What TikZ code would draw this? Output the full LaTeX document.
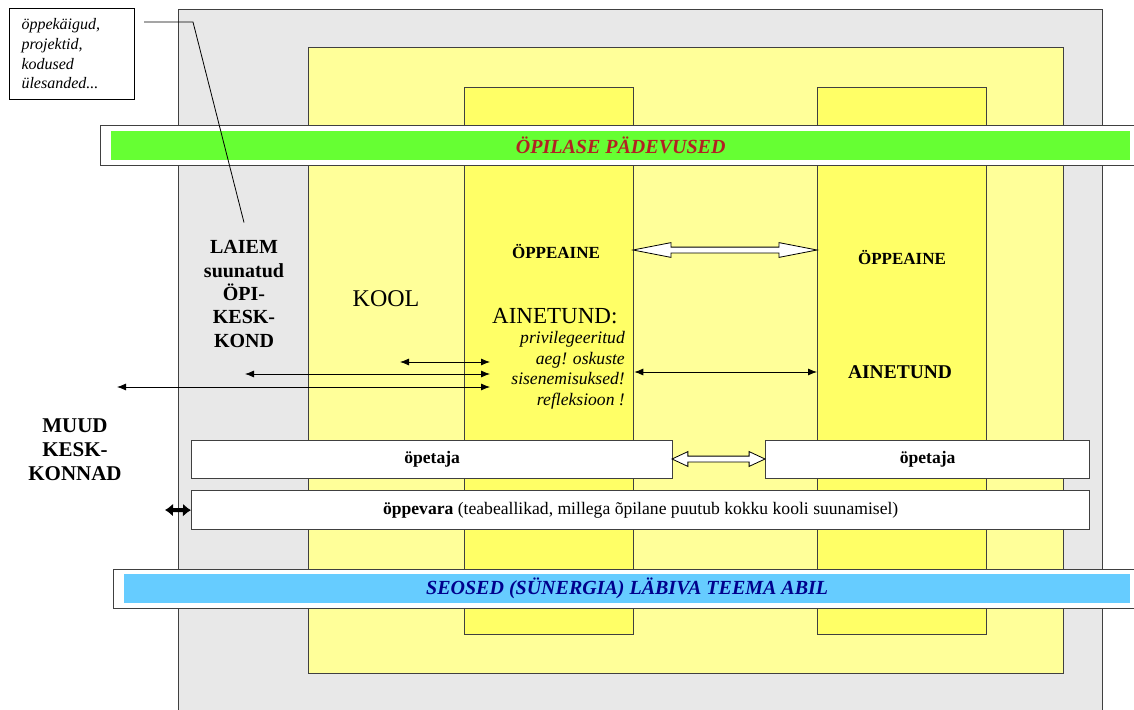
\documentclass[tikz,border=0pt]{standalone}
\usepackage{fontspec}
\setmainfont{Liberation Serif}
\usetikzlibrary{arrows.meta,shapes.arrows}

\definecolor{outerGray}{RGB}{232,232,232}
\definecolor{schoolYellow}{RGB}{255,255,153}
\definecolor{subjectYellow}{RGB}{255,255,102}
\definecolor{skillGreen}{RGB}{102,255,51}
\definecolor{linkBlue}{RGB}{102,204,255}
\definecolor{skillRed}{RGB}{178,34,34}
\definecolor{linkNavy}{RGB}{0,0,140}
\definecolor{frameGray}{RGB}{64,64,64}

\begin{document}
\begin{tikzpicture}[
  x=1pt, y=-1pt,
  panel/.style={draw=frameGray, line width=1.3pt, anchor=north west, inner sep=0pt},
  whitebox/.style={panel, fill=white, font=\fontsize{17.6}{20}\selectfont},
  bandbox/.style={anchor=north west, inner sep=0pt,
    font=\fontsize{20}{24}\selectfont\bfseries\itshape},
  sidetext/.style={inner sep=0pt, align=center,
    font=\fontsize{20}{23.3}\selectfont\bfseries},
  subject/.style={inner sep=0pt, font=\fontsize{17}{20}\selectfont\bfseries},
  link/.style={line width=0.8pt,
    {Latex[length=9pt,width=7pt]}-{Latex[length=9pt,width=7pt]}},
  hollow/.style={double arrow, draw=black, fill=white, line width=0.8pt,
    inner sep=2.5pt, double arrow head extend=4.5pt}
]
\useasboundingbox (0,0) rectangle (1134,709);
\clip (0,0) rectangle (1134,709);

% nested areas
\node[panel, fill=outerGray, minimum width=924pt, minimum height=730pt] (wider) at (178,9) {};
\node[panel, fill=schoolYellow, minimum width=755pt, minimum height=626pt] (school) at (308,47) {};
\node[panel, fill=subjectYellow, minimum width=169pt, minimum height=547pt] (subjL) at (464,87) {};
\node[panel, fill=subjectYellow, minimum width=169pt, minimum height=547pt] (subjR) at (817,87) {};

% bands across everything
\node[panel, fill=white, minimum width=1050pt, minimum height=40pt] (skillsFrame) at (100,125) {};
\node[bandbox, fill=skillGreen, minimum width=1019pt, minimum height=29pt, text=skillRed] (skills) at (111,131) {ÖPILASE PÄDEVUSED};
\node[panel, fill=white, minimum width=1040pt, minimum height=39pt] (linksFrame) at (113,569) {};
\node[bandbox, fill=linkBlue, minimum width=1006pt, minimum height=29pt, text=linkNavy] (links) at (124,574) {SEOSED (SÜNERGIA) LÄBIVA TEEMA ABIL};

% teacher and materials
\node[whitebox, minimum width=481pt, minimum height=38pt] (teacherL) at (191,440) {\textbf{öpetaja}};
\node[whitebox, minimum width=324pt, minimum height=38pt] (teacherR) at (765,440) {\textbf{öpetaja}};
\node[whitebox, minimum width=898pt, minimum height=39pt] (materials) at (191,490) {\textbf{öppevara} (teabeallikad, millega õpilane puutub kokku kooli suunamisel)};

% callout
\node[panel, draw=black, line width=1pt, fill=white, minimum height=91pt, text width=101pt,
  inner xsep=12pt, align=left, font=\fontsize{16}{19.7}\selectfont\itshape] (trips) at (9,8)
  {öppekäigud,\\projektid,\\kodused\\ülesanded...};

% texts
\node[sidetext] (widerTxt) at (244,294) {LAIEM\\suunatud\\ÖPI-\\KESK-\\KOND};
\node[sidetext, font=\fontsize{21}{24}\selectfont\bfseries] (otherTxt) at (75,450) {MUUD\\KESK-\\KONNAD};
\node[inner sep=0pt, font=\fontsize{24}{28}\selectfont] (schoolTxt) at (386,299) {KOOL};
\node[subject] (subjLTxt) at (556,252) {ÖPPEAINE};
\node[subject] (subjRTxt) at (902,258) {ÖPPEAINE};
\node[inner sep=0pt, anchor=base west, font=\fontsize{23}{26}\selectfont] (lessonL) at (492,323) {AINETUND:};
\node[inner sep=0pt, anchor=north east, align=right, font=\fontsize{17.6}{20.7}\selectfont\itshape] (lessonNote) at (625,331)
  {privilegeeritud\\aeg! oskuste\\sisenemisuksed!\\refleksioon !};
\node[inner sep=0pt, font=\fontsize{19.5}{23}\selectfont\bfseries] (lessonR) at (900,372) {AINETUND};

% links between subjects and teachers
\node[hollow, minimum height=184pt, double arrow tip angle=22] (subjLink) at (725,250) {};
\node[hollow, minimum height=93pt, double arrow tip angle=50] (teacherLink) at (718.5,459) {};
\draw[link] (subjL.east |- lessonR) -- (subjR.west |- lessonR);

% links into the lesson
\coordinate (fromKool) at (400,362);
\coordinate (inA) at (490,362);
\coordinate (fromWider) at (245,374);
\coordinate (inB) at (490,374);
\coordinate (fromOther) at (117,387);
\coordinate (inC) at (490,387);
\draw[link] (fromKool) -- (inA);
\draw[link] (fromWider) -- (inB);
\draw[link] (fromOther) -- (inC);

% materials reach outside
\coordinate (outside) at (165,510);
\draw[line width=4pt, {Latex[length=8pt,width=13pt]}-{Latex[length=8pt,width=13pt]}] (outside) -- (materials.west);

% callout leader
\coordinate (kink) at (193,22);
\draw[line width=0.8pt] ([xshift=9pt]trips.east |- kink) -- (kink) -- ([yshift=18pt]widerTxt.north);
\end{tikzpicture}
\end{document}
